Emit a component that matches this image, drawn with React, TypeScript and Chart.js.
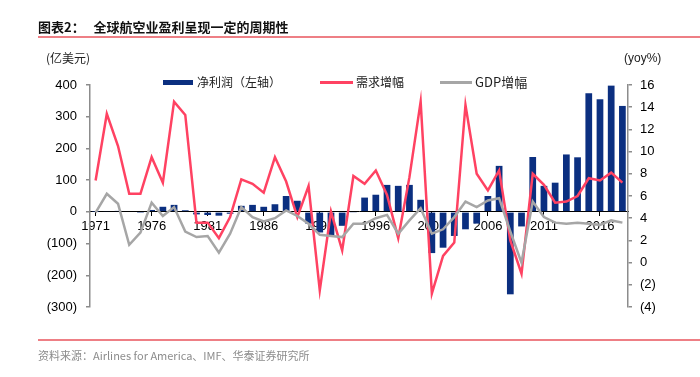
import React, { useEffect, useRef } from "react";
import { Chart, registerables } from "chart.js";

Chart.register(...registerables);

const years = [
  "1971", "1972", "1973", "1974", "1975", "1976", "1977", "1978", "1979", "1980",
  "1981", "1982", "1983", "1984", "1985", "1986", "1987", "1988", "1989", "1990",
  "1991", "1992", "1993", "1994", "1995", "1996", "1997", "1998", "1999", "2000",
  "2001", "2002", "2003", "2004", "2005", "2006", "2007", "2008", "2009", "2010",
  "2011", "2012", "2013", "2014", "2015", "2016", "2017", "2018",
];

// 净利润（亿美元，左轴）
const netProfit = [
  0.5, 2, 3, 0, -1, 6, 16, 22, 5, -8,
  -10, -12, -6, 19, 22, 16, 24, 50, 35, -37,
  -65, -74, -44, -3, 45, 54, 85, 82, 85, 38,
  -130, -113, -76, -55, -37, 50, 145, -260, -46, 173,
  82, 92, 181, 172, 374, 355, 398, 334,
];

// 需求增幅 (yoy%, 右轴)
const demandGrowth = [
  7.4, 13.4, 10.5, 6.2, 6.2, 9.5, 7.2, 14.5, 13.3, 3.6,
  3.6, 2.2, 4.1, 7.5, 7.1, 6.3, 9.5, 7.3, 4.1, 6.9,
  -2.5, 4.6, 1.1, 7.8, 7.1, 8.3, 6.1, 2.2, 7.7, 14.5,
  -2.8, 0.6, 1.8, 14.2, 8.0, 6.5, 8.3, 2.0, -1.0, 8.0,
  7.0, 5.4, 5.5, 6.0, 7.6, 7.4, 8.1, 7.2,
];

// GDP增幅 (yoy%, 右轴)
const gdpGrowth = [
  4.5, 6.2, 5.3, 1.6, 2.7, 5.4, 4.2, 5.0, 2.8, 2.3,
  2.4, 0.9, 2.6, 5.0, 4.1, 3.7, 4.0, 4.7, 4.2, 3.5,
  2.5, 2.4, 2.3, 3.5, 3.5, 4.0, 4.3, 2.6, 3.8, 4.9,
  2.6, 3.0, 4.1, 5.5, 5.0, 5.6, 5.8, 2.8, 0.0, 5.5,
  4.1, 3.6, 3.5, 3.6, 3.5, 3.4, 3.8, 3.6,
];

const leftTicks = [-300, -200, -100, 0, 100, 200, 300, 400];
const rightTicks = [-4, -2, 0, 2, 4, 6, 8, 10, 12, 14, 16];

const BAR = "#0B2F80";
const RED = "#FF4262";
const GRAY = "#A6A6A6";
const AXIS = "#8C8C8C";
const FONT = "'Liberation Sans', Arial, sans-serif";
const CJK = "'Noto Sans CJK SC', sans-serif";

const fmt = (v: number) => (v < 0 ? `(${Math.abs(v)})` : `${v}`);

export default function App() {
  const ref = useRef<HTMLCanvasElement | null>(null);

  useEffect(() => {
    if (!ref.current) return;
    const chart = new Chart(ref.current, {
      type: "bar",
      data: {
        labels: years,
        datasets: [
          {
            type: "line",
            label: "GDP增幅",
            data: gdpGrowth,
            yAxisID: "y1",
            borderColor: GRAY,
            borderWidth: 2.5,
            pointRadius: 0,
            tension: 0,
          },
          {
            type: "line",
            label: "需求增幅",
            data: demandGrowth,
            yAxisID: "y1",
            borderColor: RED,
            borderWidth: 2.5,
            pointRadius: 0,
            tension: 0,
          },
          {
            type: "bar",
            label: "净利润（左轴）",
            data: netProfit,
            yAxisID: "y",
            backgroundColor: BAR,
            categoryPercentage: 1,
            barPercentage: 0.6,
          },
        ] as any,
      },
      options: {
        animation: false,
        responsive: false,
        layout: { padding: { left: 0, right: 0, top: 85, bottom: 70 } },
        plugins: { legend: { display: false }, tooltip: { enabled: false } },
        scales: {
          x: {
            position: { y: 0 } as any,
            offset: true,
            border: { color: "#000", width: 1 },
            grid: {
              drawOnChartArea: false,
              offset: false,
              tickLength: 4,
              color: (ctx: any) => (ctx.index % 5 === 0 ? "#000" : "rgba(0,0,0,0)"),
            },
            ticks: {
              autoSkip: false,
              maxRotation: 0,
              padding: 3,
              color: "#000",
              font: { family: FONT, size: 13 },
              callback: (_v: any, i: number) => (i % 5 === 0 ? years[i] : ""),
            },
          },
          y: {
            position: "left",
            min: -300,
            max: 400,
            afterFit: (s: any) => {
              s.width = 90;
            },
            afterBuildTicks: (s: any) => {
              s.ticks = leftTicks.map((v) => ({ value: v }));
            },
            border: { color: AXIS, width: 1.5 },
            grid: { drawOnChartArea: false, tickLength: 4, color: AXIS, lineWidth: 1.5 },
            ticks: {
              padding: 9,
              color: "#000",
              font: { family: FONT, size: 13 },
              callback: (v: any) => fmt(Number(v)),
            },
          },
          y1: {
            position: "right",
            min: -4,
            max: 16,
            afterFit: (s: any) => {
              s.width = 72;
            },
            afterBuildTicks: (s: any) => {
              s.ticks = rightTicks.map((v) => ({ value: v }));
            },
            border: { color: AXIS, width: 1.5 },
            grid: { drawOnChartArea: false, tickLength: 4, color: AXIS, lineWidth: 1.5 },
            ticks: {
              padding: 8,
              color: "#000",
              font: { family: FONT, size: 13 },
              callback: (v: any) => fmt(Number(v)),
            },
          },
        },
      } as any,
    });
    return () => chart.destroy();
  }, []);

  const abs = (s: React.CSSProperties): React.CSSProperties => ({ position: "absolute", whiteSpace: "pre", ...s });

  return (
    <div style={{ position: "absolute", left: 0, top: 0, width: 700, height: 377, background: "#fff", overflow: "hidden" }}>
      <canvas ref={ref} width={700} height={377} style={{ position: "absolute", left: 0, top: 0 }} />
      <div style={abs({ left: 38, top: 19, fontFamily: CJK, fontWeight: 700, fontSize: 13, color: "#111", lineHeight: "16px" })}>
        {"图表2：   全球航空业盈利呈现一定的周期性"}
      </div>
      <div style={abs({ left: 38, top: 36, width: 662, height: 1.5, background: "#EE7F85" })} />
      <div style={abs({ left: 46, top: 50, fontFamily: CJK, fontSize: 12, color: "#222", lineHeight: "16px" })}>(亿美元)</div>
      <div style={abs({ left: 624, top: 50, fontFamily: FONT, fontSize: 12, color: "#222", lineHeight: "16px" })}>(yoy%)</div>

      <div style={abs({ left: 163, top: 80, width: 30, height: 5, background: BAR })} />
      <div style={abs({ left: 197, top: 74, fontFamily: CJK, fontSize: 12, color: "#222", lineHeight: "16px" })}>净利润（左轴）</div>
      <div style={abs({ left: 320, top: 81, width: 33, height: 2.5, background: RED })} />
      <div style={abs({ left: 356, top: 74, fontFamily: CJK, fontSize: 12, color: "#222", lineHeight: "16px" })}>需求增幅</div>
      <div style={abs({ left: 440, top: 81, width: 32, height: 2.5, background: GRAY })} />
      <div style={abs({ left: 475, top: 74, fontFamily: CJK, fontSize: 13, color: "#222", lineHeight: "16px" })}>GDP增幅</div>

      <div style={abs({ left: 38, top: 339, width: 662, height: 1.5, background: "#EE7F85" })} />
      <div style={abs({ left: 38, top: 347, fontFamily: CJK, fontSize: 11, color: "#8C8C8C", lineHeight: "16px" })}>
        资料来源：Airlines for America、IMF、华泰证券研究所
      </div>
    </div>
  );
}
